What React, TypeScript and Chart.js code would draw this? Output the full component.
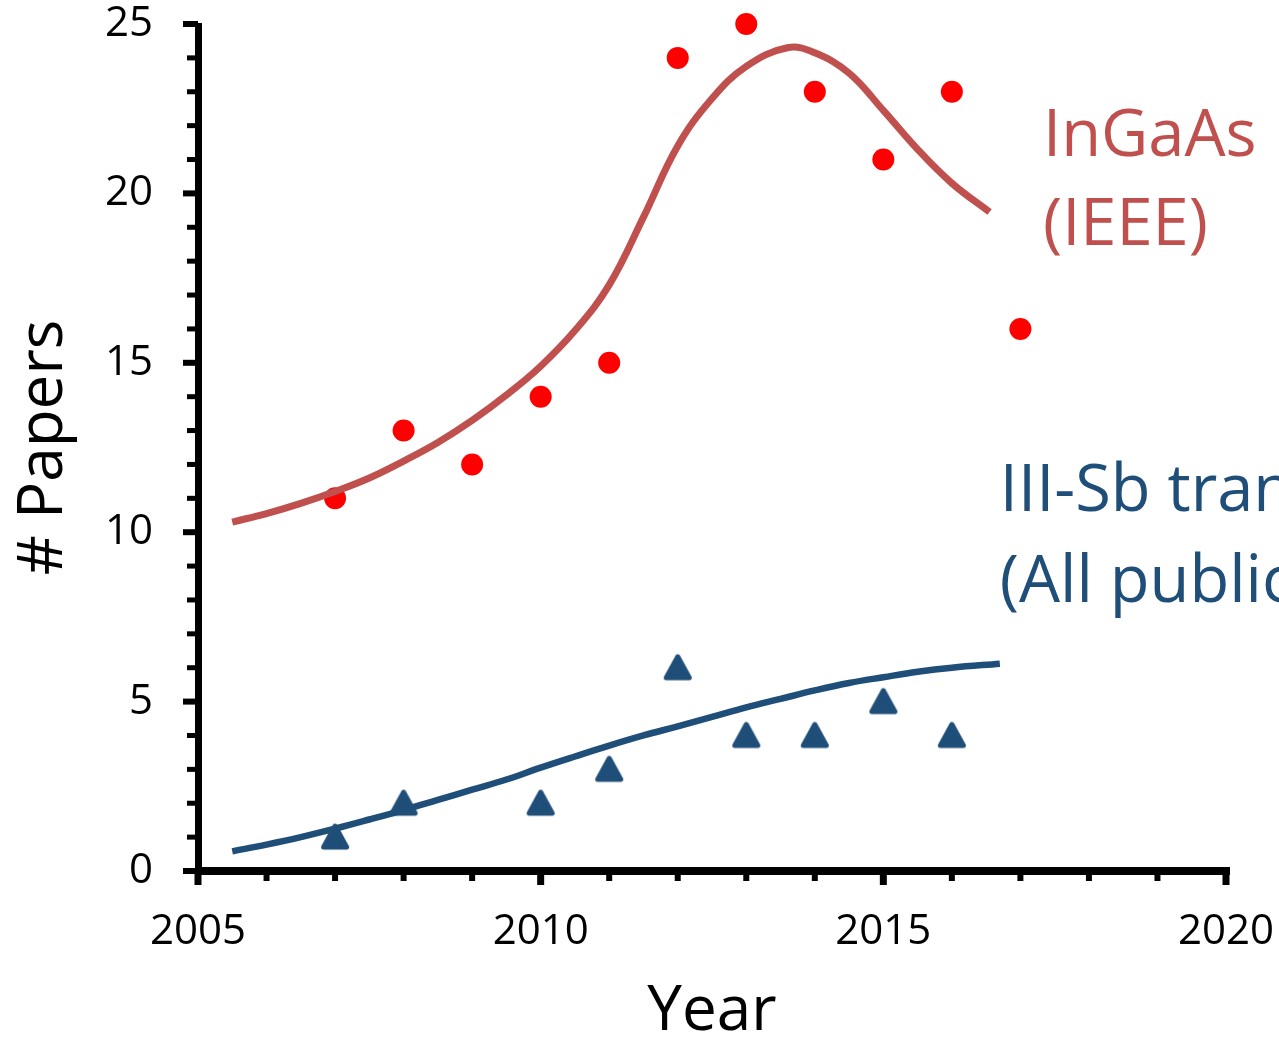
import { useEffect, useRef } from 'react';
import { Chart, registerables } from 'chart.js';

Chart.register(...registerables);

// Yearly paper counts
const ingaasYears = [2007, 2008, 2009, 2010, 2011, 2012, 2013, 2014, 2015, 2016, 2017];
const ingaasPapers = [11, 13, 12, 14, 15, 24, 25, 23, 21, 23, 16];

const sbYears = [2007, 2008, 2010, 2011, 2012, 2013, 2014, 2015, 2016];
const sbPapers = [1, 2, 2, 3, 6, 4, 4, 5, 4];

// Smoothed trend curves
const ingaasTrendYears = [2005.5, 2006, 2006.5, 2007, 2007.5, 2008, 2008.5, 2009, 2009.5, 2010, 2010.5, 2011, 2011.5, 2012, 2012.5, 2013, 2013.6, 2014, 2014.5, 2015, 2015.5, 2016, 2016.55];
const ingaasTrendValues = [10.3, 10.55, 10.85, 11.2, 11.6, 12.1, 12.65, 13.3, 14.05, 14.9, 15.95, 17.3, 19.3, 21.4, 22.8, 23.75, 24.3, 24.15, 23.55, 22.45, 21.3, 20.3, 19.45];

const sbTrendYears = [2005.5, 2006, 2006.5, 2007, 2007.5, 2008, 2008.5, 2009, 2009.5, 2010, 2010.5, 2011, 2011.5, 2012, 2012.5, 2013, 2013.5, 2014, 2014.5, 2015, 2015.5, 2016, 2016.7];
const sbTrendValues = [0.58, 0.78, 1.0, 1.25, 1.52, 1.8, 2.1, 2.4, 2.7, 3.05, 3.38, 3.7, 4.0, 4.27, 4.55, 4.83, 5.08, 5.33, 5.55, 5.72, 5.88, 6.0, 6.12];

// Axis tick labels
const yearTicks = [2005, 2010, 2015, 2020];
const paperTicks = [0, 5, 10, 15, 20, 25];

const RED_LINE = '#C0504D';
const RED_DOT = '#FF0000';
const BLUE = '#1F4E79';
const FONT = '"Open Sans", "Noto Sans", sans-serif';

function makeTriangle(color: string): HTMLCanvasElement {
  const c = document.createElement('canvas');
  c.width = 32;
  c.height = 32;
  const g = c.getContext('2d')!;
  g.fillStyle = color;
  g.strokeStyle = color;
  g.lineWidth = 5;
  g.lineJoin = 'round';
  g.beginPath();
  g.moveTo(16, 5);
  g.lineTo(27.5, 26);
  g.lineTo(4.5, 26);
  g.closePath();
  g.fill();
  g.stroke();
  return c;
}

// Axis lines with major/minor tick marks, and the series captions
const axesPlugin = {
  id: 'axesAndCaptions',
  afterDraw(chart: any) {
    const { ctx, chartArea, scales } = chart;
    const xs = scales.x;
    const ys = scales.y;
    ctx.save();
    ctx.fillStyle = '#000';
    const left = chartArea.left;
    const bottom = chartArea.bottom;
    // axis lines
    ctx.fillRect(left - 3, chartArea.top - 1, 7, bottom - chartArea.top + 5);
    ctx.fillRect(left - 3, bottom - 4, chartArea.right - left + 7, 8);
    // y ticks
    for (let v = 0; v <= 25; v++) {
      const py = ys.getPixelForValue(v);
      if (v % 5 === 0) ctx.fillRect(left - 15, py - 3, 15, 6);
      else ctx.fillRect(left - 11, py - 2.5, 11, 5);
    }
    // x ticks
    for (let yr = 2005; yr <= 2020; yr++) {
      const px = xs.getPixelForValue(yr);
      if (yr % 5 === 0) ctx.fillRect(px - 3.5, bottom, 7, 14);
      else ctx.fillRect(px - 3, bottom, 6, 10);
    }
    // captions
    ctx.font = `65px ${FONT}`;
    ctx.textAlign = 'left';
    ctx.textBaseline = 'alphabetic';
    ctx.fillStyle = RED_LINE;
    const rx = xs.getPixelForValue(2017.33);
    ctx.fillText('InGaAs', rx, ys.getPixelForValue(21.1));
    ctx.fillText('(IEEE)', rx, ys.getPixelForValue(18.47));
    ctx.fillStyle = BLUE;
    const bx = xs.getPixelForValue(2016.7);
    ctx.fillText('III-Sb transistors', bx, ys.getPixelForValue(10.63));
    ctx.fillText('(All publications)', bx, ys.getPixelForValue(7.95));
    ctx.restore();
  },
};

export default function App() {
  const ref = useRef<HTMLCanvasElement | null>(null);

  useEffect(() => {
    if (!ref.current) return;
    const triangle = makeTriangle(BLUE);
    const chart = new Chart(ref.current, {
      type: 'scatter',
      data: {
        datasets: [
          {
            type: 'line',
            data: ingaasTrendYears.map((x, i) => ({ x, y: ingaasTrendValues[i] })),
            borderColor: RED_LINE,
            borderWidth: 7,
            pointRadius: 0,
            tension: 0.4,
            fill: false,
            clip: false,
          },
          {
            type: 'line',
            data: sbTrendYears.map((x, i) => ({ x, y: sbTrendValues[i] })),
            borderColor: BLUE,
            borderWidth: 6.5,
            pointRadius: 0,
            tension: 0.4,
            fill: false,
            clip: false,
          },
          {
            data: ingaasYears.map((x, i) => ({ x, y: ingaasPapers[i] })),
            backgroundColor: RED_DOT,
            borderWidth: 0,
            pointRadius: 11,
            clip: false,
          },
          {
            data: sbYears.map((x, i) => ({ x, y: sbPapers[i] })),
            pointStyle: triangle,
            pointRadius: 16,
            clip: false,
          },
        ],
      },
      options: {
        responsive: false,
        animation: false,
        devicePixelRatio: 1,
        layout: { padding: { top: 24, right: 53, left: 0, bottom: 0 } },
        plugins: { legend: { display: false }, tooltip: { enabled: false } },
        scales: {
          x: {
            type: 'linear',
            min: 2005,
            max: 2020,
            grid: { display: false, drawTicks: false },
            border: { display: false },
            afterBuildTicks: (s: any) => {
              s.ticks = yearTicks.map((value) => ({ value }));
            },
            afterFit: (s: any) => {
              s.height = 173;
              s.paddingLeft = 0;
              s.paddingRight = 0;
            },
            ticks: {
              color: '#000',
              padding: 36,
              maxRotation: 0,
              font: { family: FONT, size: 42 },
              callback: (v: any) => String(v),
            },
            title: {
              display: true,
              text: 'Year',
              color: '#000',
              font: { family: FONT, size: 62 },
              padding: { top: 0, bottom: -6 },
            },
          },
          y: {
            min: 0,
            max: 25,
            grid: { display: false, drawTicks: false },
            border: { display: false },
            afterBuildTicks: (s: any) => {
              s.ticks = paperTicks.map((value) => ({ value }));
            },
            afterFit: (s: any) => {
              s.width = 198;
              s.paddingTop = 0;
              s.paddingBottom = 0;
            },
            ticks: {
              color: '#000',
              padding: 45,
              font: { family: FONT, size: 42 },
              callback: (v: any) => String(v),
            },
            title: {
              display: true,
              text: '# Papers',
              color: '#000',
              font: { family: FONT, size: 62 },
              padding: { top: 7, bottom: 0 },
            },
          },
        },
      },
      plugins: [axesPlugin],
    } as any);
    return () => chart.destroy();
  }, []);

  return (
    <div style={{ position: 'absolute', left: 0, top: 0, width: 1279, height: 1044, background: '#fff' }}>
      <canvas ref={ref} width={1279} height={1044} style={{ display: 'block' }} />
    </div>
  );
}
